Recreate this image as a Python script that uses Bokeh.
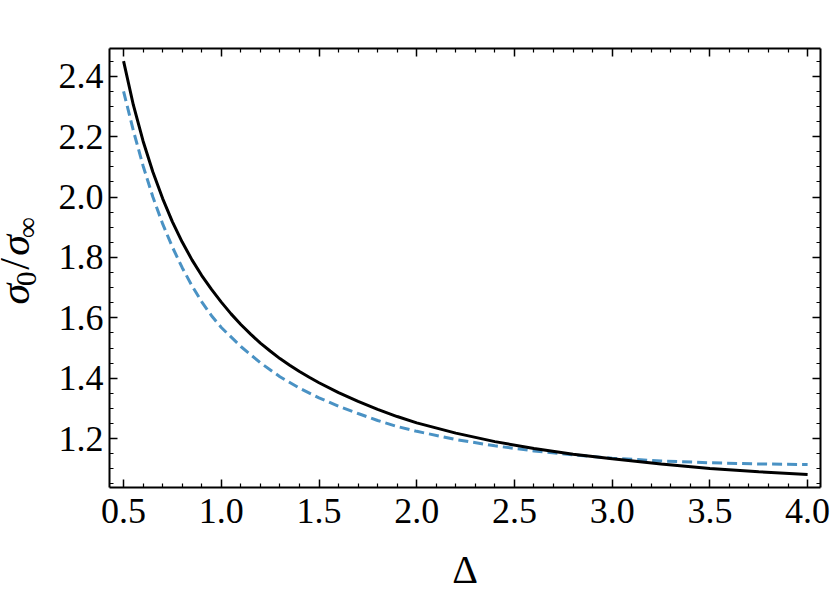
from bokeh.plotting import figure
from bokeh.models import (Range1d, FixedTicker, LinearAxis, PrintfTickFormatter,
                          ColumnDataSource)
from bokeh.layouts import row, column
from bokeh.core.properties import value
from bokeh.embed import file_html
from bokeh.resources import INLINE

# ---- data ----
delta_black = [0.5, 0.55, 0.6, 0.65, 0.7, 0.75, 0.8, 0.85, 0.9, 0.95, 1.0,
               1.05, 1.1, 1.15, 1.2, 1.25, 1.3, 1.35, 1.4, 1.45, 1.5,
               1.6, 1.7, 1.8, 1.9, 2.0, 2.2, 2.4, 2.6, 2.8, 3.0,
               3.25, 3.5, 3.75, 4.0]
ratio_black = [2.450, 2.305, 2.185, 2.083, 1.995, 1.918, 1.851, 1.792, 1.740, 1.694, 1.652,
               1.613, 1.578, 1.546, 1.516, 1.490, 1.465, 1.443, 1.422, 1.403, 1.385,
               1.352, 1.323, 1.297, 1.273, 1.252, 1.218, 1.190, 1.167, 1.148, 1.133,
               1.116, 1.101, 1.090, 1.081]

delta_blue = [0.5, 0.55, 0.6, 0.65, 0.7, 0.75, 0.8, 0.85, 0.9, 0.95, 1.0,
              1.1, 1.2, 1.3, 1.4, 1.5, 1.6, 1.7, 1.8, 1.9, 2.0,
              2.2, 2.4, 2.6, 2.8, 3.0, 3.25, 3.5, 3.75, 4.0]
ratio_blue = [2.350, 2.220, 2.103, 2.000, 1.911, 1.834, 1.766, 1.706, 1.653, 1.607, 1.568,
              1.505, 1.451, 1.405, 1.367, 1.335, 1.307, 1.283, 1.260, 1.240, 1.224,
              1.197, 1.176, 1.159, 1.146, 1.135, 1.126, 1.120, 1.116, 1.114]

x_major = [0.5, 1.0, 1.5, 2.0, 2.5, 3.0, 3.5, 4.0]
x_minor = [0.6, 0.7, 0.8, 0.9, 1.1, 1.2, 1.3, 1.4, 1.6, 1.7, 1.8, 1.9,
           2.1, 2.2, 2.3, 2.4, 2.6, 2.7, 2.8, 2.9, 3.1, 3.2, 3.3, 3.4,
           3.6, 3.7, 3.8, 3.9]
y_major = [1.2, 1.4, 1.6, 1.8, 2.0, 2.2, 2.4]
y_minor = [1.05, 1.1, 1.15, 1.25, 1.3, 1.35, 1.45, 1.5, 1.55, 1.65, 1.7, 1.75,
           1.85, 1.9, 1.95, 2.05, 2.1, 2.15, 2.25, 2.3, 2.35, 2.45]

x_label = "Δ"
y_label_parts = ["σ", "0", "/", "σ", "∞"]

FONT = "Liberation Serif"
TICK_FS = "36px"

LAB_W = 48
MAIN_H = 545
BOT_H = 48
TOTAL_W = 830

# ---------------- main plot ----------------
p = figure(width=TOTAL_W - LAB_W, height=MAIN_H, output_backend="svg",
           toolbar_location=None, title=None,
           x_range=Range1d(0.428, 4.066), y_range=Range1d(1.038, 2.492),
           min_border_left=109 - LAB_W, min_border_right=10, min_border_top=48,
           min_border_bottom=MAIN_H - 487)
p.background_fill_color = "white"
p.border_fill_color = "white"
p.outline_line_color = None
p.grid.visible = False


def style(ax, labels=True):
    ax.axis_line_width = 2
    ax.axis_line_color = "black"
    ax.major_tick_in = 8
    ax.major_tick_out = 0
    ax.minor_tick_in = 4
    ax.minor_tick_out = 0
    ax.major_tick_line_width = 1.5
    ax.minor_tick_line_width = 1.2
    ax.major_tick_line_color = "black"
    ax.minor_tick_line_color = "black"
    ax.formatter = PrintfTickFormatter(format="%.1f")
    if labels:
        ax.major_label_text_font = FONT
        ax.major_label_text_font_size = TICK_FS
        ax.major_label_text_color = "black"
    else:
        ax.major_label_text_font_size = "0px"
        ax.major_label_text_color = None
        ax.major_label_standoff = 0


p.xaxis.ticker = FixedTicker(ticks=x_major, minor_ticks=x_minor)
p.yaxis.ticker = FixedTicker(ticks=y_major, minor_ticks=y_minor)
style(p.xaxis[0])
style(p.yaxis[0])
p.xaxis.major_label_standoff = 11
p.yaxis.major_label_standoff = 6

top = LinearAxis(ticker=FixedTicker(ticks=x_major, minor_ticks=x_minor))
style(top, labels=False)
p.add_layout(top, "above")
right = LinearAxis(ticker=FixedTicker(ticks=y_major, minor_ticks=y_minor))
style(right, labels=False)
p.add_layout(right, "right")

p.line(delta_blue, ratio_blue, line_color="#4a92c4", line_width=3,
       line_dash="10 5")
p.line(delta_black, ratio_black, line_color="black", line_width=3)

# ---------------- y-axis title strip ----------------
lab = figure(width=LAB_W, height=MAIN_H, output_backend="svg", toolbar_location=None,
             title=None,
             x_range=Range1d(0, LAB_W), y_range=Range1d(0, MAIN_H),
             x_axis_type=None, y_axis_type=None, min_border=0)
lab.outline_line_color = None
lab.grid.visible = False
lab_src = ColumnDataSource(dict(
    text=y_label_parts,
    x=[14, 26, 14, 14, 26],
    y=[MAIN_H - 305, MAIN_H - 286, MAIN_H - 267.5, MAIN_H - 244.5, MAIN_H - 222.5],
    size=["42px", "29px", "42px", "42px", "29px"],
    style=["italic", "normal", "normal", "italic", "normal"],
))
lab.text(x="x", y="y", text="text", source=lab_src, angle=1.5708,
         text_font=value(FONT), text_font_size="size", text_font_style="style",
         text_align="center", text_baseline="middle", text_color="black")

# ---------------- x-axis title strip ----------------
bot = figure(width=TOTAL_W, height=BOT_H, output_backend="svg", toolbar_location=None,
             title=None,
             x_range=Range1d(0, TOTAL_W), y_range=Range1d(0, BOT_H),
             x_axis_type=None, y_axis_type=None, min_border=0)
bot.outline_line_color = None
bot.grid.visible = False
bot_src = ColumnDataSource(dict(text=[x_label], x=[464.5], y=[24]))
bot.text(x="x", y="y", text="text", source=bot_src,
         text_font=value(FONT), text_font_size="40px",
         text_align="center", text_baseline="middle", text_color="black")

layout = column(row(lab, p, spacing=0), bot, spacing=0)
open("out.html", "w").write(file_html(layout, INLINE))
